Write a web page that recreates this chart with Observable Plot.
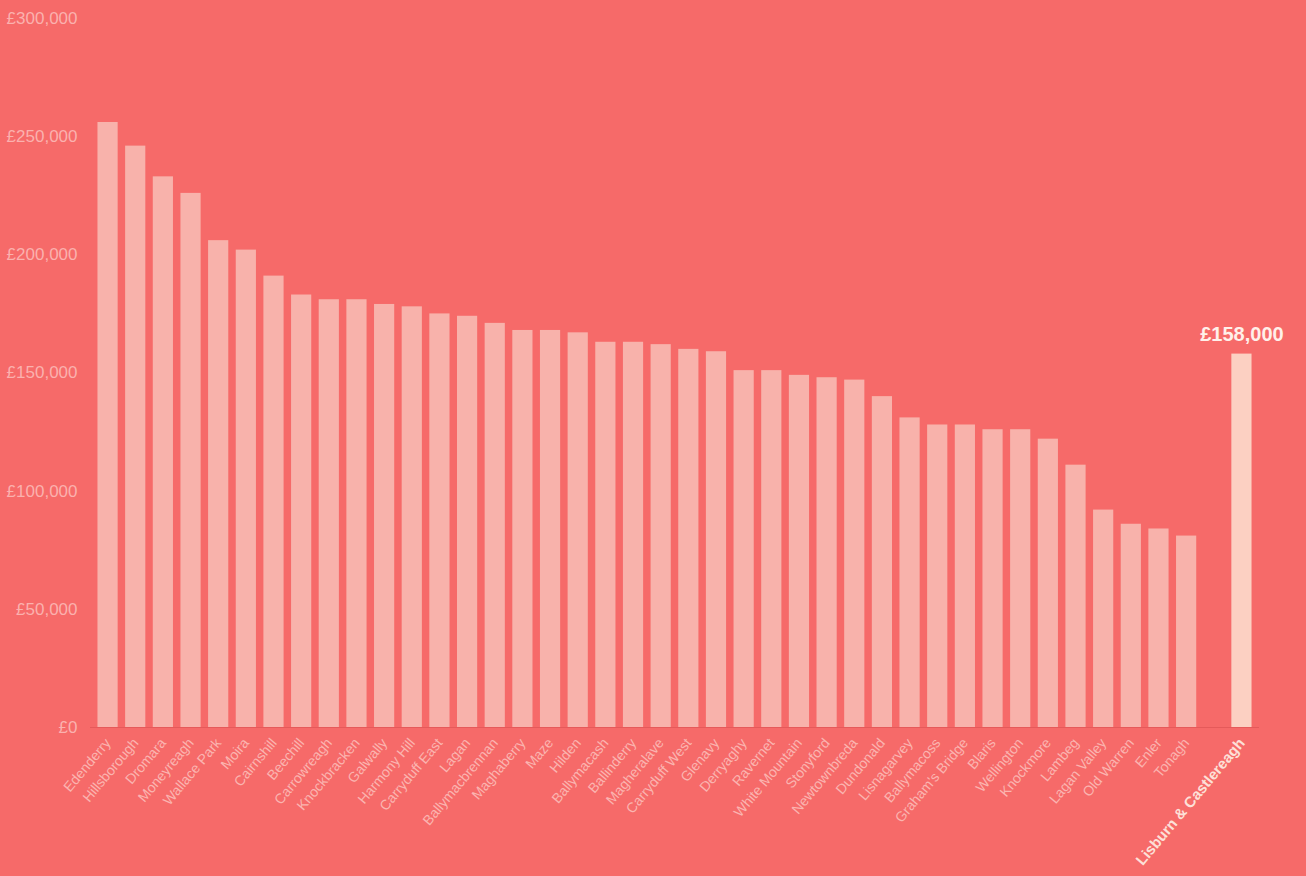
<!DOCTYPE html>
<html>
<head>
<meta charset="utf-8">
<script src="https://cdn.jsdelivr.net/npm/d3@7"></script>
<script src="https://cdn.jsdelivr.net/npm/@observablehq/plot@0.6"></script>
<style>
  html, body { margin: 0; padding: 0; background: #f66a69; overflow: hidden; }
  #chart svg { display: block; }
</style>
</head>
<body>
<div id="chart"></div>
<script>
// Wards (sorted by average house price)
const wards = [
  "Edenderry", "Hillsborough", "Dromara", "Moneyreagh", "Wallace Park",
  "Moira", "Cairnshill", "Beechill", "Carrowreagh", "Knockbracken",
  "Galwally", "Harmony Hill", "Carryduff East", "Lagan", "Ballymacbrennan",
  "Maghaberry", "Maze", "Hilden", "Ballymacash", "Ballinderry",
  "Magheralave", "Carryduff West", "Glenavy", "Derryaghy", "Ravernet",
  "White Mountain", "Stonyford", "Newtownbreda", "Dundonald", "Lisnagarvey",
  "Ballymacoss", "Graham's Bridge", "Blaris", "Wellington", "Knockmore",
  "Lambeg", "Lagan Valley", "Old Warren", "Enler", "Tonagh"
];
const prices = [
  256000, 246000, 233000, 226000, 206000,
  202000, 191000, 183000, 181000, 181000,
  179000, 178000, 175000, 174000, 171000,
  168000, 168000, 167000, 163000, 163000,
  162000, 160000, 159000, 151000, 151000,
  149000, 148000, 147000, 140000, 131000,
  128000, 128000, 126000, 126000, 122000,
  111000, 92000, 86000, 84000, 81000
];
const councilName = "Lisburn & Castlereagh";
const councilPrice = 158000;
const yTicks = [0, 50000, 100000, 150000, 200000, 250000, 300000];

const spacer = " ";
const data = wards.map((w, i) => ({area: w, price: prices[i], council: false}));
const council = {area: councilName, price: councilPrice, council: true};
data.push(council);

const fmt = d => "£" + d3.format(",")(d);

const chart = Plot.plot({
  width: 1306,
  height: 876,
  marginLeft: 90,
  marginRight: 47,
  marginTop: 18,
  marginBottom: 149,
  style: {background: "#f66a69", fontFamily: "'Liberation Sans', Arial, sans-serif", fontSize: "14px"},
  x: {domain: [...wards, spacer, councilName], padding: 0.27, round: false, axis: null, label: null},
  y: {domain: [0, 300000], axis: null, label: null},
  marks: [
    Plot.axisY({ticks: yTicks, tickFormat: fmt, tickSize: 0, tickPadding: 13, label: null,
      fill: "#fbb1ae", fontSize: 17, textAnchor: "end"}),
    Plot.barY(data, {x: "area", y: "price",
      fill: d => d.council ? "#fcd0c2" : "#f8b2ab"}),
    Plot.ruleY([0], {stroke: "#e55a5a", strokeWidth: 1}),
    Plot.axisX({ticks: wards, tickSize: 0, tickRotate: -50, tickPadding: 13, label: null,
      fill: "#fbb4b0", fontSize: 14}),
    Plot.axisX({ticks: [councilName], tickSize: 0, tickRotate: -50, tickPadding: 13, label: null,
      fill: "#fde0d8", fontSize: 15, fontWeight: "bold"}),
    Plot.text([council], {x: "area", y: "price", text: d => fmt(d.price),
      dy: -19, fill: "#fff0ea", fontSize: 20, fontWeight: "bold"})
  ]
});
document.getElementById("chart").appendChild(chart);
</script>
</body>
</html>
